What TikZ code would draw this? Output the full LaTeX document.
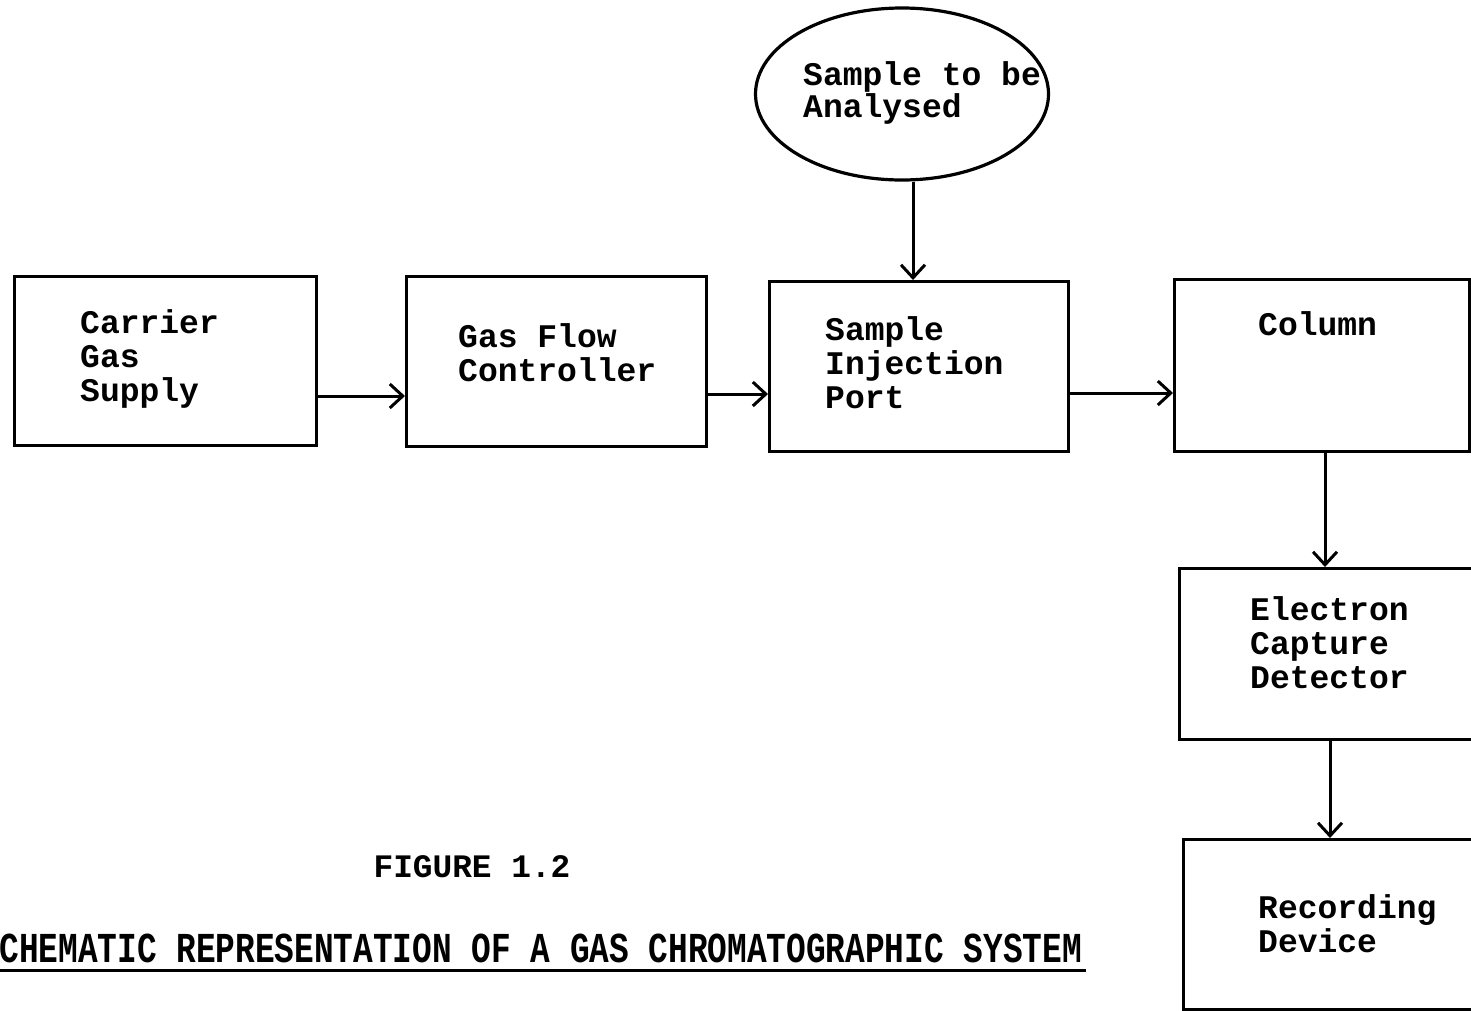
\documentclass[tikz,border=0pt]{standalone}
\usepackage{fontspec}
\newfontfamily\tw{Liberation Mono}
\usetikzlibrary{arrows.meta,shapes.geometric}
\begin{document}
\begin{tikzpicture}[x=1pt,y=-1pt,
  box/.style={draw,line width=3.2pt,rectangle,inner sep=0pt,anchor=north west},
  oval/.style={draw,line width=3.2pt,ellipse,inner sep=0pt},
  lbl/.style={anchor=base west,inner sep=0pt,align=left,font=\tw\bfseries\fontsize{33}{34}\selectfont},
  captxt/.style={inner sep=0pt,font=\tw\bfseries\fontsize{32.8}{36}\selectfont},
  arr/.style={line width=3pt,-{Straight Barb[length=13pt,width=24pt,line width=3pt]}}]
\useasboundingbox (0,0) rectangle (1471,1010);
\fill[white] (0,0) rectangle (1471,1010);
% boxes
\node[box,minimum width=302pt,minimum height=169pt] (b1) at (13,275) {};
\node[box,minimum width=300pt,minimum height=170pt] (b2) at (405,275) {};
\node[box,minimum width=299pt,minimum height=170pt] (b3) at (768,280) {};
\node[box,minimum width=295pt,minimum height=172pt] (b4) at (1173,278) {};
\node[box,minimum width=310pt,minimum height=171pt] (b5) at (1178,567) {};
\node[box,minimum width=310pt,minimum height=170pt] (b6) at (1182,838) {};
\node[oval,minimum width=293pt,minimum height=172pt] (e) at (902,94) {};
% labels (base anchor = baseline of last line)
\node[lbl] (t1) at (80,401) {Carrier\\Gas\\Supply};
\node[lbl] (t2) at (458,381) {Gas Flow\\Controller};
\node[lbl] (t3) at (825,408) {Sample\\Injection\\Port};
\node[lbl] (t4) at (1258,335) {Column};
\node[lbl] (t5) at (1250,688) {Electron\\Capture\\Detector};
\node[lbl] (t6) at (1258,952) {Recording\\Device};
\node[lbl,font=\tw\bfseries\fontsize{33}{32}\selectfont] (te) at (803,117) {Sample to be\\Analysed};
% connectors
\draw[arr] (b1.east |- 0,396) -- (b2.west |- 0,396);
\draw[arr] (b2.east |- 0,394) -- (b3.west |- 0,394);
\draw[arr] (b3.east |- 0,393) -- (b4.west |- 0,393);
\draw[arr] ([xshift=11pt]e.south) -- ([xshift=11pt]e.south |- b3.north);
\draw[arr] (b4.south -| 1325,0) -- (b5.north -| 1325,0);
\draw[arr] (b5.south -| 1330,0) -- (b6.north -| 1330,0);
% caption
\node[captxt,anchor=base] (fig) at (472,877) {FIGURE 1.2};
\node[captxt,anchor=base west] (title) at (-20.5,962) {\scalebox{1}[1.3]{SCHEMATIC REPRESENTATION OF A GAS CHROMATOGRAPHIC SYSTEM}};
\coordinate (ul0) at (0,970);
\coordinate (ul1) at (1086,970);
\draw[line width=3pt] (ul0) -- (ul1);
\end{tikzpicture}
\end{document}
